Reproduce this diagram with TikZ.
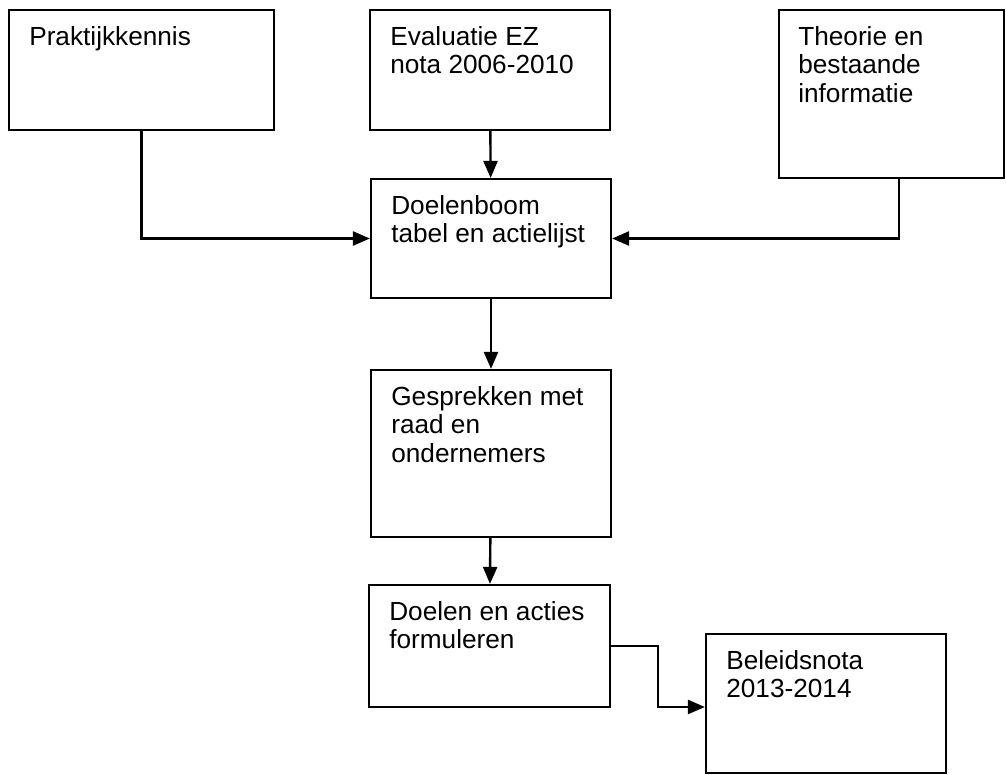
\documentclass[tikz,border=0pt]{standalone}
\usepackage{fontspec}
\setmainfont{Liberation Sans}
\usetikzlibrary{arrows.meta}

\begin{document}
\begin{tikzpicture}[x=0.5pt, y=-0.5pt,
	box/.style={draw, line width=1.1pt, inner sep=0pt},
	boxtext/.style={anchor=north west, inner sep=0pt, align=left,
		font=\fontsize{13.1}{14.2}\selectfont},
	conn/.style={line width=1.2pt, -{Triangle[length=8.5pt, width=7pt]}}]

	\useasboundingbox (0,0) rectangle (1006,775);

	% boxes
	\node[box, minimum width=132.5pt, minimum height=60pt] (prak) at (141.5,70) {};
	\node[box, minimum width=120pt, minimum height=60pt] (eval) at (490,70) {};
	\node[box, minimum width=112.5pt, minimum height=84pt] (theo) at (891.5,94) {};
	\node[box, minimum width=120pt, minimum height=59.5pt] (doel) at (491,238.5) {};
	\node[box, minimum width=120pt, minimum height=83.5pt] (gesp) at (491,453.5) {};
	\node[box, minimum width=120.5pt, minimum height=61pt] (form) at (489.5,646) {};
	\node[box, minimum width=120pt, minimum height=69.5pt] (bele) at (826,703.5) {};

	% texts
	\node[boxtext] (prak-t) at ([shift={(10.5pt,-8.5pt)}]prak.north west) {Praktijkkennis};
	\node[boxtext] (eval-t) at ([shift={(10.5pt,-8.5pt)}]eval.north west) {Evaluatie EZ\\nota 2006-2010};
	\node[boxtext] (theo-t) at ([shift={(10pt,-8.5pt)}]theo.north west) {Theorie en\\bestaande\\informatie};
	\node[boxtext] (doel-t) at ([shift={(10.5pt,-8.5pt)}]doel.north west) {Doelenboom\\tabel en actielijst};
	\node[boxtext] (gesp-t) at ([shift={(10.5pt,-8.5pt)}]gesp.north west) {Gesprekken met\\raad en\\ondernemers};
	\node[boxtext] (form-t) at ([shift={(10.5pt,-8.5pt)}]form.north west) {Doelen en acties\\formuleren};
	\node[boxtext] (bele-t) at ([shift={(10.5pt,-8.5pt)}]bele.north west) {Beleidsnota\\2013-2014};

	% connectors
	\draw[conn] (prak.south) |- (doel.west);
	\draw[conn] (eval) -- (doel);
	\draw[conn] ([xshift=3.75pt]theo.south) |- (doel.east);
	\draw[conn] (doel) -- (gesp);
	\draw[conn] (gesp) -- (form);
	\draw[conn] (form.east) -- ++(23.5pt,0) |- ([yshift=-1.75pt]bele.west);

\end{tikzpicture}
\end{document}
